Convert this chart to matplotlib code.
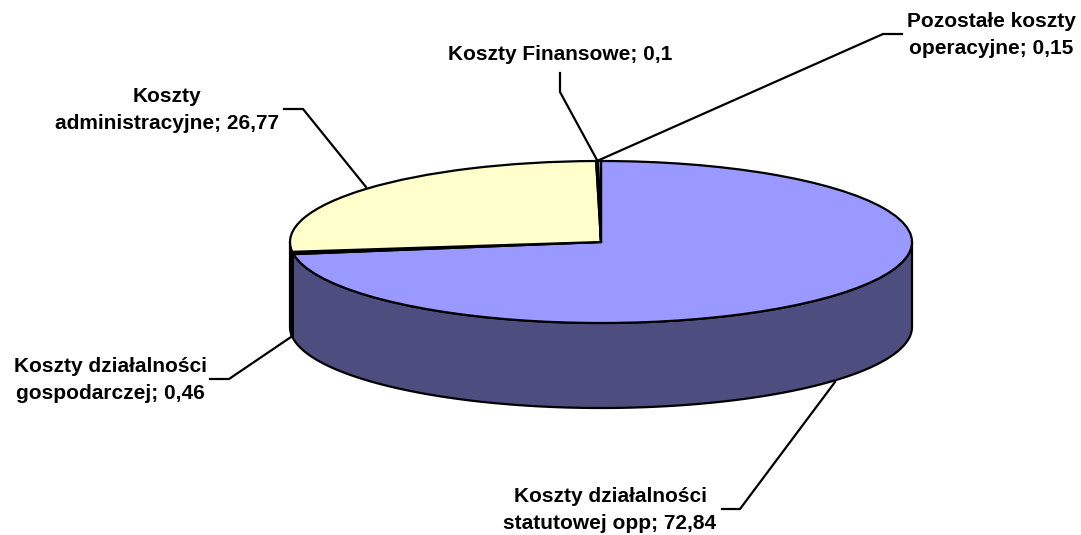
import numpy as np
import matplotlib
matplotlib.use("Agg")
import matplotlib.pyplot as plt

plt.rcParams['font.family'] = ['Liberation Sans', 'DejaVu Sans']

# Data
labels = ['Koszty działalności\nstatutowej opp; 72,84',
          'Koszty działalności\ngospodarczej; 0,46',
          'Koszty\nadministracyjne; 26,77',
          'Koszty Finansowe; 0,1',
          'Pozostałe koszty\noperacyjne; 0,15']
values = [72.84, 0.46, 26.77, 0.1, 0.15]
top_colors = ['#9999FF', '#000000', '#FFFFCC', '#66CCCC', '#CCFFFF']
side_colors = ['#4D4D80', '#000000', '#000000', '#336666', '#668080']

# pie geometry in pixels
cx, cy = 601, 242
rx, ry = 311, 81
depth = 85
W, H = 1081, 535


def px(x, y):
    return (x - cx) / rx, (cy - y) / ry


fig = plt.figure(figsize=(W / 100, H / 100), dpi=100)
ax = fig.add_axes([0, 0, 1, 1])

wedges, _ = ax.pie(values, colors=top_colors, startangle=90, counterclock=False,
                   wedgeprops={'edgecolor': 'black', 'linewidth': 1.6, 'zorder': 3})
ax.set_aspect('auto')
ax.set_xlim(-cx / rx, (W - cx) / rx)
ax.set_ylim((cy - H) / ry, cy / ry)
ax.axis('off')

# side wall, front half of each slice
d = depth / ry
ang = 90.0
for val, col in zip(values, side_colors):
    a0, a1 = ang - val * 3.6, ang
    ang = a0
    lo, hi = max(a0, -180), min(a1, 0)
    if hi <= lo:
        continue
    t = np.radians(np.linspace(lo, hi, 200))
    xs = np.concatenate([np.cos(t), np.cos(t[::-1])])
    ys = np.concatenate([np.sin(t), np.sin(t[::-1]) - d])
    ax.fill(xs, ys, facecolor=col, edgecolor='black', linewidth=1.6, zorder=2)

# leader lines
leaders = [
    ([835, 740, 722], [382, 509, 509]),
    ([291, 229, 210], [337, 379, 379]),
    ([366, 303, 284], [187, 109, 109]),
    ([597, 560, 560], [160, 92, 73]),
    ([597, 883, 902], [161, 34, 34]),
]
for xs, ys in leaders:
    p = [px(a, b) for a, b in zip(xs, ys)]
    ax.plot([q[0] for q in p], [q[1] for q in p], color='black', lw=1.6, zorder=4,
            solid_joinstyle='miter')

# labels
label_pos = [(610, 510), (110, 380), (167, 110), (560, 54), (991, 35)]
for lab, (x, y) in zip(labels, label_pos):
    a, b = px(x, y)
    ax.text(a, b, lab, ha='center', va='center', fontsize=15, fontweight='bold',
            linespacing=1.5, color='black', zorder=5)

fig.savefig('out.png', dpi=100, facecolor='white')
